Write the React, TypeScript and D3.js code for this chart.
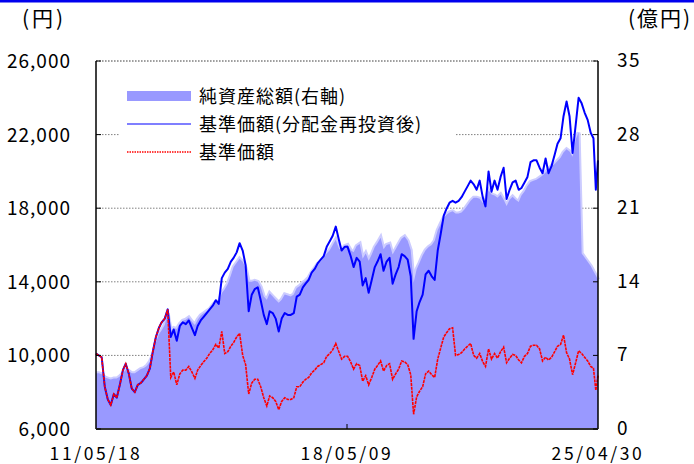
import React from "react";
import * as d3 from "d3";

// ---- data (monthly samples, 2011-05 .. 2025-03, plus two April 2025 points) ----
const firstDate = "2011-05-18";
const tailDates = ["2025-04-08", "2025-04-30"];

// 基準価額(分配金再投資後) (円)
const navReinvested = [
  10100, 10000, 9900, 8300, 7600, 7300, 7900, 7700,
  8400, 9200, 9550, 9000, 8200, 8000, 8400, 8500, 8700, 8900, 9300, 10200,
  11000, 11500, 11800, 12000, 12500, 11000, 11400, 10800, 11600, 11800, 11700, 11900,
  11500, 11100, 11600, 11900, 12100, 12300, 12500, 12700, 13000, 12800, 14200, 14500,
  14700, 15100, 15300, 15600, 16100, 15700, 14900, 12400, 13300, 13600, 13700, 13000,
  12200, 11700, 12400, 12300, 12000, 11300, 12000, 12300, 12200, 12200, 12300, 13200,
  13300, 13700, 13900, 14100, 14500, 14700, 15000, 15200, 15400, 15900, 16200, 16500,
  17000, 16300, 15700, 15900, 15900, 15400, 14800, 15300, 15100, 13800, 14200, 13400,
  14100, 14800, 15100, 15500, 14600, 15100, 15300, 13900, 14400, 14800, 15500, 15400,
  15200, 14300, 10900, 12400, 12900, 13300, 14400, 14600, 14300, 14100, 15700, 16600,
  17600, 18000, 18300, 18400, 18300, 18400, 18600, 18900, 19200, 19500, 19300, 19000,
  19500, 18600, 18100, 20000, 18900, 19500, 19000, 19700, 20200, 18500, 19000, 19400,
  19500, 19000, 19100, 19400, 19700, 20500, 20600, 20600, 20200, 19900, 20700, 19900,
  20300, 20900, 21500, 21800, 23000, 23800, 23000, 21000, 22500, 24000, 23700, 23200,
  22800, 22100, 21800, 19000, 20600,
];

// 基準価額 (円)
const nav = [
  10100, 10000, 9900, 8300, 7600, 7300, 7900, 7700,
  8400, 9200, 9550, 9000, 8200, 8000, 8400, 8500, 8700, 8900, 9300, 10200,
  11000, 11500, 11800, 12000, 12500, 8800, 9100, 8400, 9000, 9200, 9200, 9400,
  9100, 8750, 9200, 9450, 9650, 9850, 10100, 10300, 10600, 10400, 11300, 10100,
  10200, 10500, 10700, 11000, 11200, 10000, 9500, 7900, 8500, 8700, 8700, 8300,
  7700, 7250, 7800, 7700, 7500, 7050, 7500, 7700, 7600, 7600, 7700, 8300,
  8300, 8550, 8700, 8800, 9050, 9200, 9400, 9500, 9600, 9950, 10100, 10300,
  10650, 10200, 9800, 9950, 9950, 9650, 9250, 9550, 9450, 8600, 8900, 8400,
  8800, 9250, 9450, 9700, 9150, 9450, 9550, 8700, 9000, 9250, 9700, 9650,
  9500, 8950, 6800, 7750, 8050, 8300, 9000, 9150, 8950, 8800, 9800, 10400,
  11000, 11250, 11450, 11500, 10000, 10050, 10150, 10350, 10500, 10650, 10000, 9850,
  10100, 9650, 9400, 10350, 9800, 10100, 9850, 10200, 10450, 9600, 9850, 10050,
  10000, 9750, 9600, 9950, 10100, 10500, 10550, 10550, 10350, 9700, 9900, 9750,
  9900, 10200, 10500, 10600, 11100, 10150, 9800, 8950, 9600, 10250, 10100, 9900,
  9700, 9400, 9300, 8100, 8900,
];

// 純資産総額 (億円)
const netAssets = [
  5.3, 5.3, 5.2, 4.9, 4.8, 4.7, 4.8, 4.8,
  5.0, 5.3, 5.6, 5.5, 5.3, 5.3, 5.5, 5.7, 5.8, 6.0, 6.4, 7.0,
  8.2, 9.0, 9.4, 9.9, 11.0, 9.3, 9.6, 9.5, 10.0, 10.3, 10.4, 10.6,
  10.2, 9.9, 10.4, 10.8, 11.0, 11.2, 11.4, 11.8, 12.1, 12.0, 12.9, 13.3,
  13.8, 14.6, 15.4, 15.8, 16.2, 15.9, 15.3, 14.0, 14.0, 14.1, 14.0, 13.5,
  12.6, 12.3, 12.9, 12.6, 12.3, 12.0, 12.3, 12.8, 12.7, 12.6, 12.8, 13.4,
  13.6, 13.9, 14.1, 14.4, 14.9, 15.3, 15.7, 15.9, 16.3, 16.7, 17.0, 17.5,
  18.0, 17.2, 16.9, 17.4, 17.5, 17.0, 16.8, 17.4, 17.6, 16.2, 16.7, 16.0,
  16.6, 17.3, 17.7, 18.2, 17.1, 17.5, 17.6, 16.6, 17.1, 17.6, 18.1, 18.3,
  17.9, 17.0, 13.9, 15.2, 15.8, 16.5, 17.0, 17.3, 17.5, 17.9, 18.9, 19.5,
  20.1, 20.4, 20.6, 20.7, 20.5, 20.5, 20.6, 20.9, 21.3, 21.7, 22.0, 22.0,
  21.9, 21.5, 21.7, 22.7, 22.3, 22.2, 22.0, 22.3, 21.8, 21.2, 21.8, 22.1,
  21.8, 21.6, 22.2, 22.6, 23.1, 23.5, 23.6, 23.7, 23.9, 24.1, 24.4, 24.7,
  25.0, 25.2, 25.5, 25.8, 26.3, 26.6, 26.4, 25.9, 27.5, 28.2, 16.7, 16.3,
  15.9, 15.5, 15.0, 14.6, 14.2,
];

const leftTicks = [6000, 10000, 14000, 18000, 22000, 26000];
const rightTicks = [0, 7, 14, 21, 28, 35];
const xTickDates = ["2011-05-18", "2018-05-09", "2025-04-30"];
const xTickLabels = ["11/05/18", "18/05/09", "25/04/30"];
const legendLabels = ["純資産総額(右軸)", "基準価額(分配金再投資後)", "基準価額"];
const leftUnit = "(円)";
const rightUnit = "(億円)";

// ---- build dates ----
const parse = d3.timeParse("%Y-%m-%d");
const nMonthly = navReinvested.length - tailDates.length;
const dates: Date[] = [];
for (let i = 0; i < nMonthly; i++) {
  dates.push(i === 0 ? (parse(firstDate) as Date) : new Date(2011, 4 + i, 15));
}
tailDates.forEach((s) => dates.push(parse(s) as Date));

const rows = dates.map((d, i) => ({
  d,
  blue: navReinvested[i],
  red: nav[i],
  area: netAssets[i],
}));

const W = 694;
const H = 464;
const L = 96;
const R = 598;
const T = 61;
const B = 429;
const FONT = "'Noto Sans CJK JP', 'Noto Sans', sans-serif";

export default function App() {
  const x = d3
    .scaleTime()
    .domain([parse(xTickDates[0]) as Date, parse(xTickDates[2]) as Date])
    .range([L, R]);
  const yL = d3.scaleLinear().domain([6000, 26000]).range([B, T]);
  const yR = d3.scaleLinear().domain([0, 35]).range([B, T]);

  const areaGen = d3
    .area<(typeof rows)[0]>()
    .x((r) => x(r.d))
    .y0(B)
    .y1((r) => yR(r.area));
  const areaTop = d3
    .line<(typeof rows)[0]>()
    .x((r) => x(r.d))
    .y((r) => yR(r.area));
  const blueLine = d3
    .line<(typeof rows)[0]>()
    .x((r) => x(r.d))
    .y((r) => yL(r.blue));
  const redLine = d3
    .line<(typeof rows)[0]>()
    .x((r) => x(r.d))
    .y((r) => yL(r.red));

  return (
    <svg
      width={W}
      height={H}
      style={{ position: "absolute", left: 0, top: 0, background: "#fff" }}
      fontFamily={FONT}
    >
      <rect x={0} y={0} width={W} height={H} fill="#fff" />
      <rect x={0} y={0} width={W} height={2.5} fill="#0000ee" />

      {/* units */}
      <text x={22} y={26} fontSize={21} letterSpacing={3} fill="#000">
        {leftUnit}
      </text>
      <text x={628} y={26} fontSize={21} letterSpacing={2} fill="#000">
        {rightUnit}
      </text>

      {/* gridlines */}
      {leftTicks.slice(1).map((t) => (
        <line
          key={t}
          x1={L}
          x2={R}
          y1={yL(t)}
          y2={yL(t)}
          stroke="#808080"
          strokeWidth={1}
          strokeDasharray="1.5 1.5"
        />
      ))}

      {/* net assets area */}
      <path d={areaTop(rows) || ""} fill="none" stroke="#ccccff" strokeWidth={4} />
      <path d={areaGen(rows) || ""} fill="#9999ff" />

      {/* legend box */}
      <rect x={120} y={78} width={336} height={90} fill="#fff" />
      <rect x={127} y={91} width={64} height={10} fill="#9999ff" />
      <line x1={127} x2={191} y1={124} y2={124} stroke="#0000ff" strokeWidth={1.2} />
      <line
        x1={127}
        x2={191}
        y1={152}
        y2={152}
        stroke="#ff0000"
        strokeWidth={1.3}
        strokeDasharray="1.5 1"
      />
      {legendLabels.map((s, i) => (
        <text
          key={s}
          x={199}
          y={102.5 + i * 28}
          fontSize={18}
          letterSpacing={1}
          fill="#000"
        >
          {s}
        </text>
      ))}

      {/* lines */}
      <path
        d={blueLine(rows) || ""}
        fill="none"
        stroke="#0000ff"
        strokeWidth={2}
        strokeLinejoin="round"
      />
      <path
        d={redLine(rows) || ""}
        fill="none"
        stroke="#ff0000"
        strokeWidth={1.6}
        strokeDasharray="3 0.8"
      />

      {/* frame */}
      <line x1={L} x2={R} y1={T} y2={T} stroke="#808080" strokeDasharray="1.5 1.5" />
      <line x1={L} x2={L} y1={T} y2={B} stroke="#000" strokeWidth={1.5} />
      <line x1={R} x2={R} y1={T} y2={B} stroke="#000" strokeWidth={1.5} />
      <line x1={L} x2={R} y1={B} y2={B} stroke="#333" strokeWidth={2} />

      {/* ticks */}
      {leftTicks.map((t) => (
        <line key={"lt" + t} x1={L} x2={L + 5} y1={yL(t)} y2={yL(t)} stroke="#000" />
      ))}
      {rightTicks.map((t) => (
        <line key={"rt" + t} x1={R - 5} x2={R} y1={yR(t)} y2={yR(t)} stroke="#000" />
      ))}
      <line
        x1={x(parse(xTickDates[1]) as Date)}
        x2={x(parse(xTickDates[1]) as Date)}
        y1={B}
        y2={B - 5}
        stroke="#000"
      />

      {/* tick labels */}
      {leftTicks.map((t) => (
        <text
          key={"ll" + t}
          x={71}
          y={yL(t) + 7}
          fontSize={19}
          letterSpacing={1}
          textAnchor="end"
          fill="#000"
        >
          {d3.format(",")(t)}
        </text>
      ))}
      {rightTicks.map((t) => (
        <text
          key={"rl" + t}
          x={617}
          y={yR(t) + 6}
          fontSize={19}
          letterSpacing={1.5}
          fill="#000"
        >
          {t}
        </text>
      ))}
      {xTickDates.map((s, i) => (
        <text
          key={s}
          x={x(parse(s) as Date)}
          y={460}
          fontSize={17.5}
          letterSpacing={2.6}
          textAnchor="middle"
          fill="#000"
        >
          {xTickLabels[i]}
        </text>
      ))}
    </svg>
  );
}
